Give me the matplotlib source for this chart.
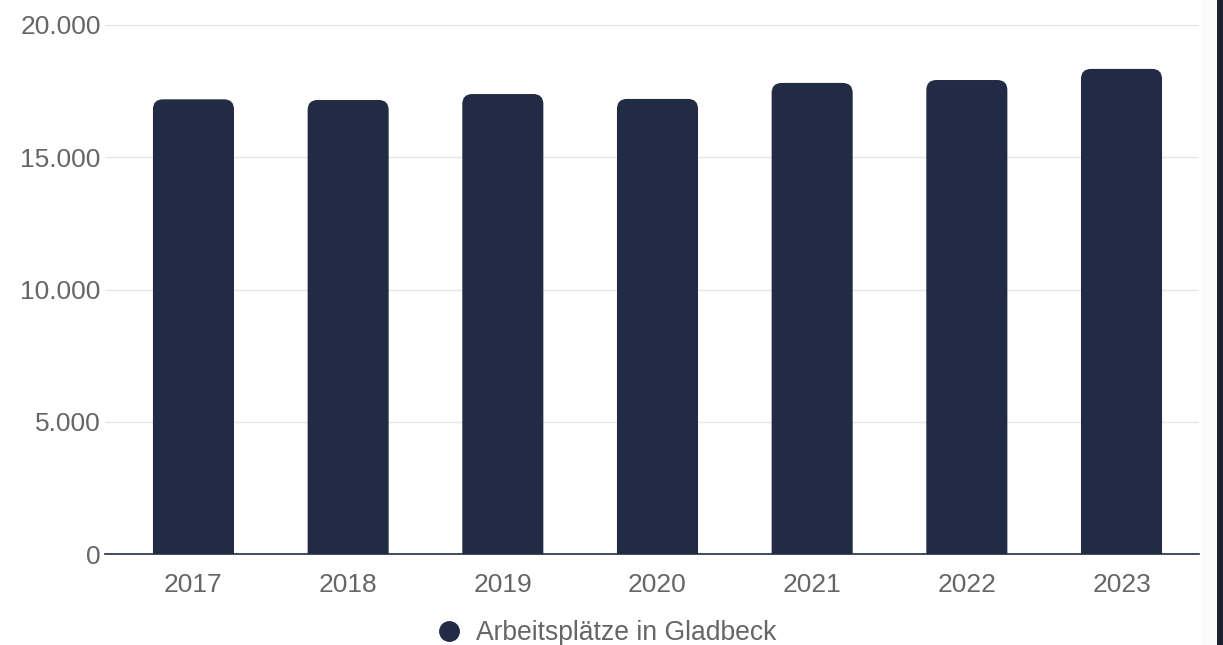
import matplotlib
matplotlib.use("Agg")
import matplotlib.pyplot as plt
from matplotlib.patches import FancyBboxPatch, Rectangle
from matplotlib.lines import Line2D
from matplotlib.ticker import FuncFormatter

plt.rcParams['font.family'] = ['Liberation Sans', 'DejaVu Sans']

years = ["2017", "2018", "2019", "2020", "2021", "2022", "2023"]
jobs = [17190, 17165, 17390, 17205, 17810, 17920, 18340]
series_label = "Arbeitsplätze in Gladbeck"
y_ticks = [0, 5000, 10000, 15000, 20000]

BAR_COLOR = "#212c44"
TEXT_COLOR = "#666666"
GRID_COLOR = "#e6e6e6"

W, H = 1223, 645
fig = plt.figure(figsize=(W / 100, H / 100), dpi=100)
fig.patch.set_facecolor("white")

# right-hand frame strip
fig.patches.append(Rectangle((1201 / W, 0), 17 / W, 1, transform=fig.transFigure,
                             facecolor="#fbfbfb", edgecolor="none", zorder=0))
fig.patches.append(Rectangle((1217 / W, 0), 6 / W, 1, transform=fig.transFigure,
                             facecolor="#1c2130", edgecolor="none", zorder=0))

left, right = 105 / W, 1199 / W
bottom, top = (H - 554) / H, (H - 25) / H
ax = fig.add_axes([left, bottom, right - left, top - bottom])
ax.set_facecolor("none")

ax.set_xlim(-0.572, 6.501)
ax.set_ylim(0, 20000)

bar_width = 0.524
x_per_px = (6.501 + 0.572) / (1199 - 105)
y_per_px = 20000 / (554 - 25)
radius_px = 10

for i, v in enumerate(jobs):
    base = -2000
    patch = FancyBboxPatch((i - bar_width / 2, base), bar_width, v - base,
                           boxstyle=f"round,pad=0,rounding_size={radius_px * x_per_px}",
                           mutation_aspect=y_per_px / x_per_px,
                           facecolor=BAR_COLOR, edgecolor="none", zorder=2)
    ax.add_patch(patch)

ax.set_xticks(range(len(years)))
ax.set_xticklabels(years)
ax.set_yticks(y_ticks)
ax.yaxis.set_major_formatter(FuncFormatter(lambda v, _: f"{int(v):,}".replace(",", ".")))

ax.grid(axis="y", color=GRID_COLOR, linewidth=1, zorder=0)
ax.set_axisbelow(True)
for side in ("top", "right", "left"):
    ax.spines[side].set_visible(False)
ax.spines["bottom"].set_color(BAR_COLOR)
ax.spines["bottom"].set_linewidth(1.2)
ax.spines["bottom"].set_zorder(3)

ax.tick_params(axis="both", length=0, labelsize=19, labelcolor=TEXT_COLOR)
ax.tick_params(axis="y", pad=3)
ax.tick_params(axis="x", pad=14)

handle = Line2D([], [], marker="o", linestyle="none", markersize=14,
                markerfacecolor=BAR_COLOR, markeredgecolor=BAR_COLOR)
fig.legend([handle], [series_label], loc="center",
           bbox_to_anchor=(606 / W, 1 - 633 / H), frameon=False,
           fontsize=19.1, labelcolor=TEXT_COLOR, handletextpad=0.55,
           handlelength=1.0, borderpad=0)

fig.savefig("out.png", dpi=100, facecolor=fig.get_facecolor())
